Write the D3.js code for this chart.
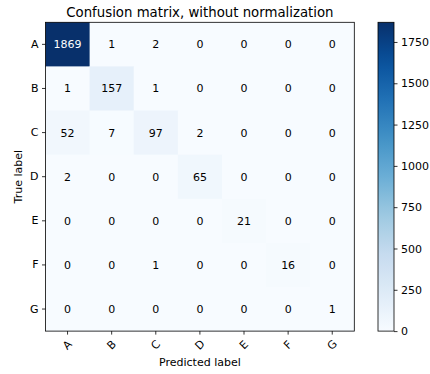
<!DOCTYPE html>
<html>
<head>
<meta charset="utf-8">
<script src="https://cdn.jsdelivr.net/npm/d3@7"></script>
<style>
  body { margin: 0; background: #fff; }
  text { font-family: "DejaVu Sans", sans-serif; fill: #000; }
</style>
</head>
<body>
<div id="chart"></div>
<script>
// class labels and counts (rows = true label, cols = predicted label)
var classes = ["A", "B", "C", "D", "E", "F", "G"];
var matrix = [
  [1869, 1, 2, 0, 0, 0, 0],
  [1, 157, 1, 0, 0, 0, 0],
  [52, 7, 97, 2, 0, 0, 0],
  [2, 0, 0, 65, 0, 0, 0],
  [0, 0, 0, 0, 21, 0, 0],
  [0, 0, 1, 0, 0, 16, 0],
  [0, 0, 0, 0, 0, 0, 1]
];
var barTicks = [0, 250, 500, 750, 1000, 1250, 1500, 1750];

var width = 430, height = 374;
// note: "top" clashes with window.top, so use other names
var mLeft = 45.5, mTop = 22.3, size = 308.8;
var cbLeft = 378, cbWidth = 16;
var fs = "11px";

var svg = d3.select("#chart").append("svg")
  .attr("width", width)
  .attr("height", height);

var maxVal = d3.max(matrix, function(r) { return d3.max(r); });

// matplotlib Blues is a linear blend of the 9 colorbrewer colours
var color = d3.scaleSequential(d3.piecewise(d3.interpolateRgb, d3.schemeBlues[9]))
  .domain([0, maxVal]);

var x = d3.scaleBand().domain(classes).range([mLeft, mLeft + size]);
var y = d3.scaleBand().domain(classes).range([mTop, mTop + size]);

var cells = [];
matrix.forEach(function(row, i) {
  row.forEach(function(v, j) {
    cells.push({ t: classes[i], p: classes[j], v: v });
  });
});

svg.selectAll("rect.cell")
  .data(cells)
  .enter().append("rect")
  .attr("class", "cell")
  .attr("x", function(d) { return x(d.p); })
  .attr("y", function(d) { return y(d.t); })
  .attr("width", x.bandwidth() + 0.5)
  .attr("height", y.bandwidth() + 0.5)
  .attr("fill", function(d) { return color(d.v); });

svg.selectAll("text.val")
  .data(cells)
  .enter().append("text")
  .attr("class", "val")
  .attr("x", function(d) { return x(d.p) + x.bandwidth() / 2; })
  .attr("y", function(d) { return y(d.t) + y.bandwidth() / 2; })
  .attr("dy", "0.36em")
  .attr("text-anchor", "middle")
  .style("font-size", fs)
  .style("fill", function(d) { return d.v > maxVal / 2 ? "#fff" : "#000"; })
  .text(function(d) { return d.v; });

svg.append("rect")
  .attr("x", mLeft).attr("y", mTop)
  .attr("width", size).attr("height", size)
  .attr("fill", "none").attr("stroke", "#000").attr("stroke-width", 0.8);

// axes
var xAxis = svg.append("g")
  .attr("transform", "translate(0," + (mTop + size) + ")")
  .call(d3.axisBottom(x).tickSize(3.5).tickPadding(3.5));
xAxis.select(".domain").remove();
xAxis.selectAll("text")
  .attr("y", 0).attr("dy", 0)
  .attr("transform", "translate(0,14) rotate(-45)")
  .attr("dominant-baseline", "central")
  .style("text-anchor", "middle");

var yAxis = svg.append("g")
  .attr("transform", "translate(" + mLeft + ",0)")
  .call(d3.axisLeft(y).tickSize(3.5).tickPadding(3.5));
yAxis.select(".domain").remove();

svg.selectAll(".tick line").attr("stroke", "#000").attr("stroke-width", 0.8);
svg.selectAll(".tick text").style("font-size", fs).style("font-family", "DejaVu Sans, sans-serif");

// titles
svg.append("text")
  .attr("x", mLeft + size / 2).attr("y", 16.5)
  .attr("text-anchor", "middle")
  .style("font-size", "13.3px")
  .text("Confusion matrix, without normalization");

svg.append("text")
  .attr("x", mLeft + size / 2).attr("y", 366)
  .attr("text-anchor", "middle")
  .style("font-size", fs)
  .text("Predicted label");

svg.append("text")
  .attr("transform", "translate(21.5," + (mTop + size / 2) + ") rotate(-90)")
  .attr("text-anchor", "middle")
  .style("font-size", fs)
  .text("True label");

// colorbar
var defs = svg.append("defs");
var grad = defs.append("linearGradient")
  .attr("id", "cbar")
  .attr("x1", 0).attr("y1", 1).attr("x2", 0).attr("y2", 0);
d3.range(0, 1.0001, 0.05).forEach(function(t) {
  grad.append("stop")
    .attr("offset", t)
    .attr("stop-color", color(t * maxVal));
});

var cb = d3.scaleLinear().domain([0, maxVal]).range([mTop + size, mTop]);

svg.append("rect")
  .attr("x", cbLeft).attr("y", mTop)
  .attr("width", cbWidth).attr("height", size)
  .attr("fill", "url(#cbar)")
  .attr("stroke", "#000").attr("stroke-width", 0.8);

var cbAxis = svg.append("g")
  .attr("transform", "translate(" + (cbLeft + cbWidth) + ",0)")
  .call(d3.axisRight(cb).tickValues(barTicks).tickFormat(d3.format("d"))
    .tickSize(3.5).tickPadding(3.5));
cbAxis.select(".domain").remove();
cbAxis.selectAll(".tick line").attr("stroke", "#000").attr("stroke-width", 0.8);
cbAxis.selectAll(".tick text").style("font-size", fs).style("font-family", "DejaVu Sans, sans-serif");
</script>
</body>
</html>
